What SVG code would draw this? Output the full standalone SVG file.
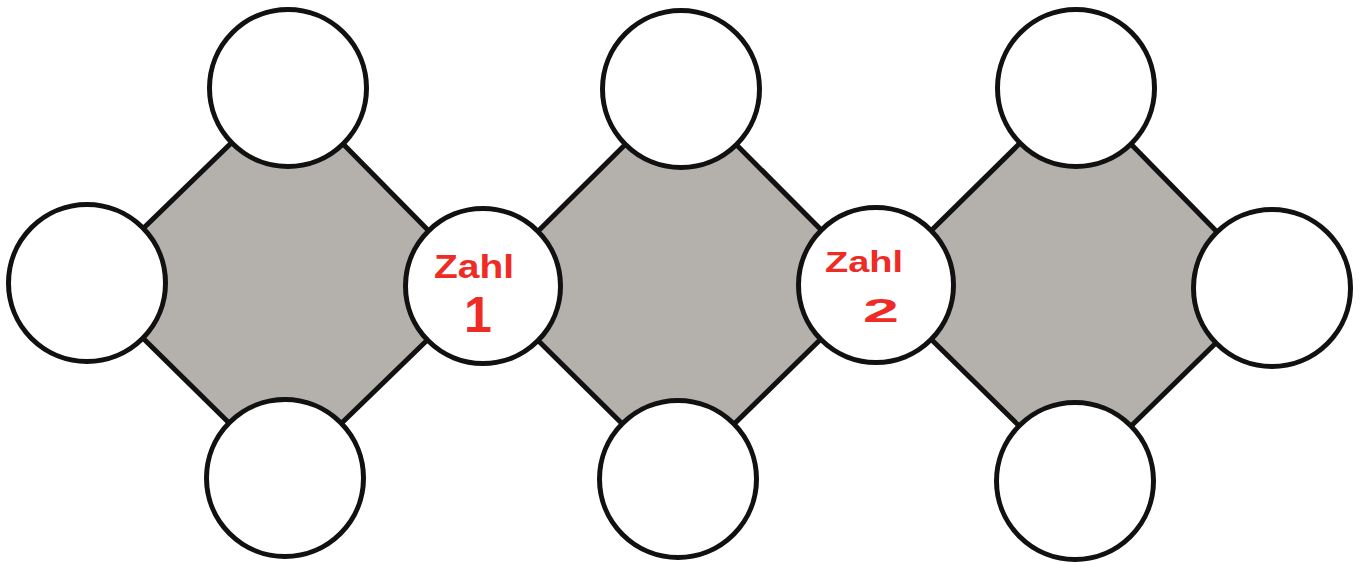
<svg xmlns="http://www.w3.org/2000/svg" width="1364" height="562" viewBox="0 0 1364 562">
  <style>
    .face { fill: #b4b0ab; stroke: none; }
    .edge { stroke: #111; stroke-width: 5; stroke-linecap: round; fill: none; }
    .node { fill: #fff; stroke: #111; stroke-width: 5; }
    .hand { fill: #ee2b24; font-family: "Liberation Sans", Arial, sans-serif; font-weight: bold; text-anchor: middle; }
  </style>
  <rect width="1364" height="562" fill="#fff"/>
  <g id="faces">
    <polygon class="face" points="87,283 288,88 483,286 285,478"/>
    <polygon class="face" points="483,286 681,89 876,285 678,479"/>
    <polygon class="face" points="876,285 1076,88 1272,288 1075,481"/>
  </g>
  <g id="connectors">
    <path class="edge" d="M87,283 L288,88 L483,286 L285,478 Z"/>
    <path class="edge" d="M483,286 L681,89 L876,285 L678,479 Z"/>
    <path class="edge" d="M876,285 L1076,88 L1272,288 L1075,481 Z"/>
  </g>
  <g id="n-top1"><circle class="node" cx="288" cy="88" r="78.5"/></g>
  <g id="n-left"><circle class="node" cx="87" cy="283" r="78.5"/></g>
  <g id="n-bottom1"><circle class="node" cx="285" cy="478" r="78.5"/></g>
  <g id="n-zahl1">
    <circle class="node" cx="483" cy="286" r="77.5"/>
    <text class="hand" x="474" y="278" font-size="34" textLength="80" lengthAdjust="spacingAndGlyphs">Zahl</text>
    <text class="hand" x="478" y="332" font-size="50">1</text>
  </g>
  <g id="n-top2"><circle class="node" cx="681" cy="89" r="78.5"/></g>
  <g id="n-bottom2"><circle class="node" cx="678" cy="479" r="78.5"/></g>
  <g id="n-zahl2">
    <circle class="node" cx="876" cy="285" r="77.5"/>
    <text class="hand" x="864" y="272" font-size="30" textLength="78" lengthAdjust="spacingAndGlyphs">Zahl</text>
    <text class="hand" x="881" y="322" font-size="34" textLength="36" lengthAdjust="spacingAndGlyphs">2</text>
  </g>
  <g id="n-top3"><circle class="node" cx="1076" cy="88" r="78.5"/></g>
  <g id="n-right"><circle class="node" cx="1272" cy="288" r="78.5"/></g>
  <g id="n-bottom3"><circle class="node" cx="1075" cy="481" r="78.5"/></g>
</svg>
